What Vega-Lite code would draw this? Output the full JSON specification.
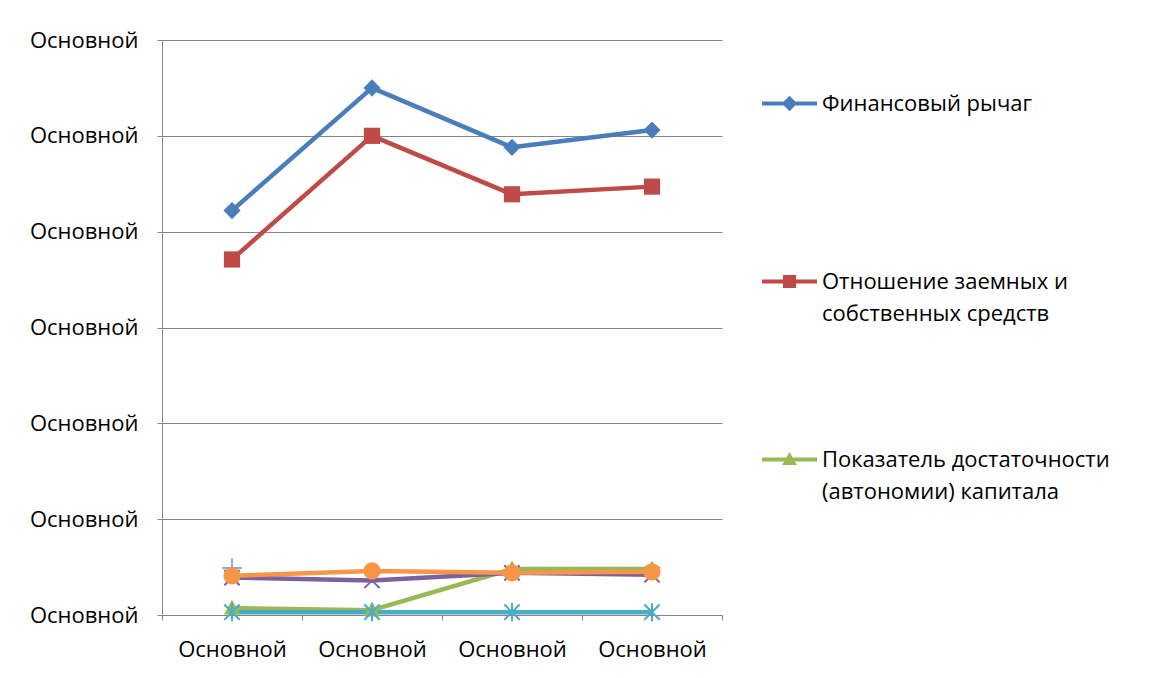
{
  "$schema": "https://vega.github.io/schema/vega-lite/v6.json",
  "width": 560,
  "height": 575,
  "autosize": {"type": "none"},
  "padding": {"left": 162, "top": 40, "right": 444, "bottom": 63},
  "background": "white",
  "config": {
    "view": {"stroke": null},
    "font": "Open Sans",
    "axis": {
      "labelFont": "Open Sans",
      "labelFontSize": 22,
      "labelColor": "black",
      "domainColor": "#868686",
      "tickColor": "#868686",
      "gridColor": "#868686",
      "tickSize": 5,
      "labelFlush": false,
      "labelOverlap": false,
      "title": null
    }
  },
  "data": {
    "values": [
      {"series": "Финансовый рычаг", "period": "1", "value": 4.22},
      {"series": "Финансовый рычаг", "period": "2", "value": 5.50},
      {"series": "Финансовый рычаг", "period": "3", "value": 4.88},
      {"series": "Финансовый рычаг", "period": "4", "value": 5.06},
      {"series": "Отношение заемных и собственных средств", "period": "1", "value": 3.71},
      {"series": "Отношение заемных и собственных средств", "period": "2", "value": 5.00},
      {"series": "Отношение заемных и собственных средств", "period": "3", "value": 4.39},
      {"series": "Отношение заемных и собственных средств", "period": "4", "value": 4.47},
      {"series": "Показатель достаточности (автономии) капитала", "period": "1", "value": 0.07},
      {"series": "Показатель достаточности (автономии) капитала", "period": "2", "value": 0.05},
      {"series": "Показатель достаточности (автономии) капитала", "period": "3", "value": 0.48},
      {"series": "Показатель достаточности (автономии) капитала", "period": "4", "value": 0.48},
      {"series": "Коэффициент финансовой устойчивости", "period": "1", "value": 0.39},
      {"series": "Коэффициент финансовой устойчивости", "period": "2", "value": 0.36},
      {"series": "Коэффициент финансовой устойчивости", "period": "3", "value": 0.44},
      {"series": "Коэффициент финансовой устойчивости", "period": "4", "value": 0.42},
      {"series": "Коэффициент маневренности", "period": "1", "value": 0.03},
      {"series": "Коэффициент маневренности", "period": "2", "value": 0.03},
      {"series": "Коэффициент маневренности", "period": "3", "value": 0.03},
      {"series": "Коэффициент маневренности", "period": "4", "value": 0.03},
      {"series": "Коэффициент обеспеченности собственными средствами", "period": "1", "value": 0.41},
      {"series": "Коэффициент обеспеченности собственными средствами", "period": "2", "value": 0.46},
      {"series": "Коэффициент обеспеченности собственными средствами", "period": "3", "value": 0.44},
      {"series": "Коэффициент обеспеченности собственными средствами", "period": "4", "value": 0.45},
      {"series": "Коэффициент финансовой независимости", "period": "1", "value": 0.49}
    ]
  },
  "encoding": {
    "x": {
      "field": "period",
      "type": "ordinal",
      "scale": {"paddingInner": 0, "paddingOuter": 0},
      "axis": {
        "labelExpr": "datum.label ? 'Основной' : ''",
        "labelAngle": 0,
        "tickBand": "extent",
        "grid": false,
        "labelPadding": 19
      }
    },
    "y": {
      "field": "value",
      "type": "quantitative",
      "scale": {"domain": [0, 6], "nice": false, "zero": true},
      "axis": {
        "values": [0, 1, 2, 3, 4, 5, 6],
        "labelExpr": "'Основной'",
        "grid": true,
        "labelPadding": 19
      }
    },
    "color": {
      "field": "series",
      "type": "nominal",
      "scale": {
        "domain": [
          "Финансовый рычаг",
          "Отношение заемных и собственных средств",
          "Показатель достаточности (автономии) капитала",
          "Коэффициент финансовой устойчивости",
          "Коэффициент маневренности",
          "Коэффициент обеспеченности собственными средствами",
          "Коэффициент финансовой независимости"
        ],
        "range": ["#4A7EBB", "#BE4B48", "#98B954", "#7D60A0", "#4BACC6", "#F79646", "#8EA9DB"]
      },
      "legend": {
        "values": [
          "Финансовый рычаг",
          "Отношение заемных и собственных средств",
          "Показатель достаточности (автономии) капитала"
        ],
        "orient": "none",
        "legendX": 600,
        "legendY": 36,
        "title": null,
        "padding": 0,
        "symbolSize": 3025,
        "labelFont": "Open Sans",
        "labelFontSize": 22,
        "labelColor": "black",
        "labelLimit": 400,
        "labelOffset": 5,
        "rowPadding": 107,
        "labelExpr": "datum.label == 'Отношение заемных и собственных средств' ? ['Отношение заемных и', 'собственных средств'] : datum.label == 'Показатель достаточности (автономии) капитала' ? ['Показатель достаточности', '(автономии) капитала'] : [datum.label, '']",
        "encode": {
          "symbols": {
            "update": {
              "shape": {"signal": "datum.value == 'Финансовый рычаг' ? 'M-1,-0.075L1,-0.075L1,0.075L-1,0.075Z M0,-0.28L0.28,0L0,0.28L-0.28,0Z' : datum.value == 'Отношение заемных и собственных средств' ? 'M-1,-0.075L1,-0.075L1,0.075L-1,0.075Z M-0.24,-0.24L0.24,-0.24L0.24,0.24L-0.24,0.24Z' : 'M-1,-0.075L1,-0.075L1,0.075L-1,0.075Z M0,-0.27L0.27,0.2L-0.27,0.2Z'"},
              "fill": {"signal": "scale('color', datum.value)"},
              "stroke": {"value": "transparent"},
              "strokeWidth": {"value": 0},
              "opacity": {"value": 1}
            }
          },
          "labels": {
            "update": {
              "lineHeight": {"value": 32}
            }
          }
        }
      }
    }
  },
  "layer": [
    {"mark": {"type": "line", "strokeWidth": 4.5, "strokeJoin": "round"}},
    {
      "transform": [{"filter": {"field": "series", "equal": "Финансовый рычаг"}}],
      "mark": {"type": "point", "filled": true, "opacity": 1, "size": 324, "shape": "M0,-0.95L0.95,0L0,0.95L-0.95,0Z"}
    },
    {
      "transform": [{"filter": {"field": "series", "equal": "Отношение заемных и собственных средств"}}],
      "mark": {"type": "point", "filled": true, "opacity": 1, "size": 324, "shape": "M-0.9,-0.9L0.9,-0.9L0.9,0.9L-0.9,0.9Z"}
    },
    {
      "transform": [{"filter": {"field": "series", "equal": "Показатель достаточности (автономии) капитала"}}],
      "mark": {"type": "point", "filled": true, "opacity": 1, "size": 324, "shape": "M0,-0.95L0.9,0.7L-0.9,0.7Z"}
    },
    {
      "transform": [{"filter": {"field": "series", "equal": "Коэффициент финансовой устойчивости"}}],
      "mark": {"type": "point", "filled": false, "opacity": 1, "size": 324, "strokeWidth": 2, "shape": "M-0.85,-0.85L0.85,0.85M-0.85,0.85L0.85,-0.85"}
    },
    {
      "transform": [{"filter": {"field": "series", "equal": "Коэффициент маневренности"}}],
      "mark": {"type": "point", "filled": false, "opacity": 1, "size": 324, "strokeWidth": 2, "shape": "M-0.85,-0.85L0.85,0.85M-0.85,0.85L0.85,-0.85M0,-1L0,1"}
    },
    {
      "transform": [{"filter": {"field": "series", "equal": "Коэффициент финансовой независимости"}}],
      "mark": {"type": "point", "filled": false, "opacity": 1, "size": 324, "strokeWidth": 2, "shape": "M-1.1,0L1.1,0M0,-1.1L0,1.1"}
    },
    {
      "transform": [{"filter": {"field": "series", "equal": "Коэффициент обеспеченности собственными средствами"}}],
      "mark": {"type": "point", "filled": true, "opacity": 1, "size": 324, "shape": "M0.95,0A0.95,0.95 0 1,1 -0.95,0A0.95,0.95 0 1,1 0.95,0Z"}
    }
  ]
}
